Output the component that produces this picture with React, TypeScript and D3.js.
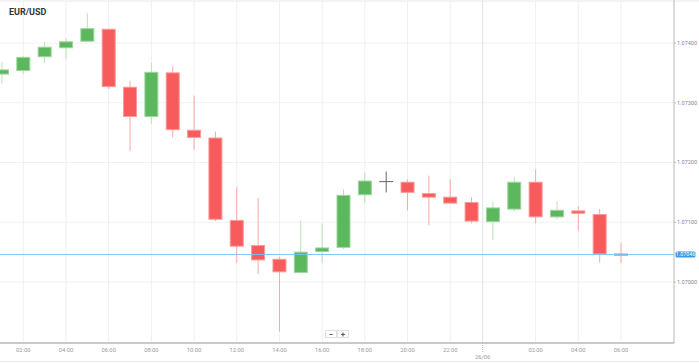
import React, { useEffect } from 'react';
import * as d3 from 'd3';

// hourly candles, 25/06 01:00 .. 26/06 06:00 (hour offsets from 25/06 00:00)
const hours = [1, 2, 3, 4, 5, 6, 7, 8, 9, 10, 11, 12, 13, 14, 15, 16, 17, 18, 19, 20, 21, 22, 23, 24, 25, 26, 27, 28, 29, 30];
const opens = [1.07348, 1.07354, 1.07377, 1.07392, 1.07403, 1.07423, 1.07326, 1.07277, 1.0735, 1.07254, 1.07241, 1.07103, 1.07061, 1.07038, 1.07016, 1.07051, 1.07058, 1.07146, 1.07168, 1.07167, 1.07148, 1.07142, 1.07133, 1.07101, 1.07122, 1.07167, 1.07109, 1.07119, 1.07113, 1.07047];
const highs = [1.07368, 1.07378, 1.07402, 1.07408, 1.0745, 1.07423, 1.07337, 1.07367, 1.07361, 1.07312, 1.07252, 1.07159, 1.07141, 1.07042, 1.07103, 1.07098, 1.07155, 1.07183, 1.07185, 1.07172, 1.07178, 1.07172, 1.07142, 1.07135, 1.07176, 1.07188, 1.07135, 1.07127, 1.07122, 1.07066];
const lows = [1.07332, 1.07348, 1.07366, 1.07373, 1.07403, 1.07323, 1.07219, 1.07265, 1.07242, 1.07221, 1.07102, 1.07032, 1.07013, 1.06917, 1.07016, 1.07032, 1.07055, 1.07132, 1.0715, 1.0712, 1.07095, 1.07132, 1.07098, 1.0707, 1.07118, 1.07098, 1.07105, 1.07086, 1.07033, 1.07032];
const closes = [1.07355, 1.07376, 1.07393, 1.07402, 1.07424, 1.07327, 1.07277, 1.07351, 1.07255, 1.07242, 1.07105, 1.0706, 1.07037, 1.07017, 1.0705, 1.07057, 1.07145, 1.07169, 1.07168, 1.0715, 1.07142, 1.07132, 1.07102, 1.07124, 1.07167, 1.07109, 1.0712, 1.07115, 1.07047, 1.07046];

const timeTicks = [2, 4, 6, 8, 10, 12, 14, 16, 18, 20, 22, 26, 28, 30];
const timeLabels = ['02:00', '04:00', '06:00', '08:00', '10:00', '12:00', '14:00', '16:00', '18:00', '20:00', '22:00', '02:00', '04:00', '06:00'];
const dateTick = 23.52;
const dateLabel = '26/06';
const priceTicks = [1.07, 1.071, 1.072, 1.073, 1.074];
const currentPrice = 1.07046;
const title = 'EUR/USD';

const W = 699;
const H = 363;
const plotRight = 674;
const plotBottom = 343;

const App: React.FC = () => {
  useEffect(() => {
    document.body.style.margin = '0';
  }, []);

  const x = d3.scaleLinear().domain([2, 30]).range([23.3, 621]);
  const y = d3.scaleLinear().domain([1.07, 1.074]).range([282, 43]);
  const fmt = d3.format('.5f');
  const bw = 14;

  const candles = hours.map((h, i) => ({ h, o: opens[i], hi: highs[i], lo: lows[i], c: closes[i] }));

  const font = 'Roboto, "Open Sans", sans-serif';

  return (
    <svg width={W} height={H} style={{ display: 'block' }} fontFamily={font}>
      <rect width={W} height={H} fill="#fff" />
      <line x1={0} x2={W} y1={1} y2={1} stroke="#e8e8e8" />
      <line x1={0} x2={W} y1={361.5} y2={361.5} stroke="#e8e8e8" />

      {/* grid */}
      {priceTicks.map(p => (
        <line key={'hg' + p} x1={0} x2={plotRight} y1={y(p)} y2={y(p)} stroke="#f2f2f2" />
      ))}
      {timeTicks.map(t => (
        <line key={'vg' + t} x1={x(t)} x2={x(t)} y1={0} y2={plotBottom} stroke="#f0f0f0" />
      ))}
      <line x1={x(dateTick)} x2={x(dateTick)} y1={0} y2={plotBottom} stroke="#e2e2e2" />

      {/* candles */}
      <g>
        {candles.map(d => {
          const up = d.c > d.o;
          const flat = d.c === d.o;
          const fill = flat ? '#666' : up ? '#5cb85c' : '#f75b5b';
          const edge = flat ? '#666' : up ? '#9fd69f' : '#fa9a9a';
          const wick = flat ? '#666' : up ? '#b9e1b9' : '#f8a8a8';
          const cx = x(d.h);
          const top = y(Math.max(d.o, d.c));
          const bot = y(Math.min(d.o, d.c));
          return (
            <g key={d.h}>
              <line x1={cx} x2={cx} y1={y(d.hi)} y2={y(d.lo)} stroke={wick} strokeWidth={1} />
              {flat ? (
                <line x1={cx - bw / 2} x2={cx + bw / 2} y1={top} y2={top} stroke={fill} strokeWidth={1} />
              ) : (
                <rect
                  x={cx - bw / 2 + 0.5}
                  y={top}
                  width={bw - 1}
                  height={Math.max(bot - top, 1.5)}
                  fill={fill}
                  stroke={edge}
                  strokeWidth={1}
                />
              )}
            </g>
          );
        })}
      </g>

      {/* current price line */}
      <line x1={0} x2={plotRight} y1={y(currentPrice)} y2={y(currentPrice)} stroke="#74c4f4" strokeWidth={1.2} opacity={0.9} />

      {/* right axis */}
      <line x1={plotRight} x2={plotRight} y1={0} y2={plotBottom} stroke="#b8b8b8" strokeWidth={1} />
      {priceTicks.map(p => (
        <g key={'pt' + p}>
          <line x1={plotRight} x2={plotRight + 2} y1={y(p)} y2={y(p)} stroke="#bbb" />
          <text x={plotRight + 3} y={y(p)} dy="0.35em" fontSize={5.5} fill="#888">
            {fmt(p)}
          </text>
        </g>
      ))}
      <rect x={plotRight + 1.5} y={y(currentPrice) - 3} width={20} height={6} rx={1.5} fill="#3c9be6" />
      <text x={plotRight + 11.5} y={y(currentPrice)} dy="0.35em" fontSize={5.3} fill="#fff" textAnchor="middle">
        {fmt(currentPrice)}
      </text>

      {/* bottom axis */}
      <line x1={0} x2={plotRight} y1={plotBottom} y2={plotBottom} stroke="#b8b8b8" strokeWidth={1.3} />
      {timeTicks.map((t, i) => (
        <text key={'tl' + t} x={x(t)} y={350} dy="0.35em" fontSize={5.8} fill="#999" textAnchor="middle">
          {timeLabels[i]}
        </text>
      ))}
      <line x1={x(dateTick)} x2={x(dateTick)} y1={plotBottom} y2={352} stroke="#bbb" strokeDasharray="1,1" />
      <text x={x(dateTick)} y={357} dy="0.35em" fontSize={5.8} fill="#999" textAnchor="middle">
        {dateLabel}
      </text>

      {/* zoom buttons */}
      <g>
        <rect x={325.5} y={330.5} width={11} height={7} fill="#fff" stroke="#e0e0e0" />
        <text x={331} y={334} dy="0.35em" fontSize={8} fill="#555" textAnchor="middle" fontWeight="bold">−</text>
        <rect x={337.5} y={330.5} width={11} height={7} fill="#fff" stroke="#e0e0e0" />
        <text x={343} y={334} dy="0.35em" fontSize={8} fill="#555" textAnchor="middle" fontWeight="bold">+</text>
      </g>

      {/* title */}
      <text x={9} y={15.3} fontSize={9} fontWeight="bold" fill="#333">
        {title}
      </text>
    </svg>
  );
};

export default App;
